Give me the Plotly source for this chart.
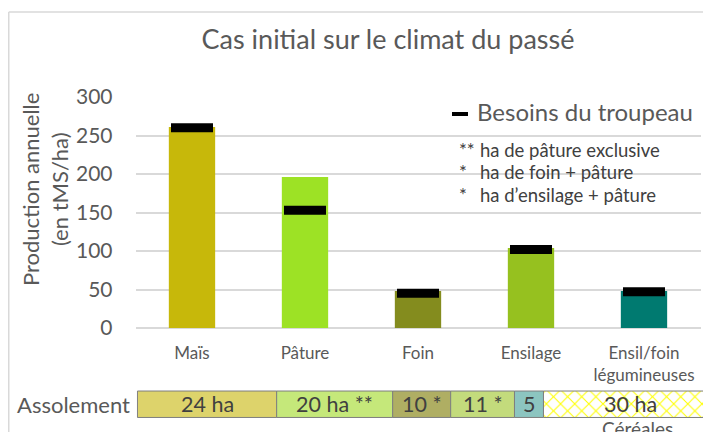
import plotly.graph_objects as go

# ---- data ----
categories = ["Maïs", "Pâture", "Foin", "Ensilage", "Ensil/foin<br>légumineuses"]
production = [261, 196, 48, 104, 48]
besoins = [260, 153, 45, 102, 47]
bar_colors = ["#C7B80A", "#9DE225", "#848C1E", "#96C11F", "#007A70"]

assol_labels = ["24 ha", "20 ha **", "10 *", "11 *", "5", "30 ha"]
assol_ha = [24, 20, 10, 11, 5, 30]
assol_colors = ["#DDD36B", "#C5E87A", "#AFAE63", "#C3DB7C", "#8CC5C0", "#FFFFFF"]

title_text = "Cas initial sur le climat du passé"
y_title = "Production annuelle<br>(en tMS/ha)"
legend_name = "Besoins du troupeau"
note_stars = ["**", "*", "*"]
note_texts = ["ha de pâture exclusive", "ha de foin + pâture", "ha d\u2019ensilage + pâture"]
row_label = "Assolement"
cereal_label = "Céréales"

W, H = 711, 432
OFF = 8  # page body margin
FONT = "Lato"
GREY = "#595959"

def px(x):
    return (x - OFF) / W

def py(y):
    return 1 - (y - OFF) / H

fig = go.Figure()

fig.add_trace(go.Bar(
    x=categories, y=production, marker=dict(color=bar_colors, line=dict(width=0)),
    width=0.41, showlegend=False, xaxis="x", yaxis="y"))

fig.add_trace(go.Scatter(
    x=categories, y=besoins, mode="markers", name=legend_name, showlegend=False,
    marker=dict(symbol="line-ew", size=30, color="black",
                line=dict(color="black", width=9)),
    xaxis="x", yaxis="y"))

# assolement row
cum = 0
for i, (lab, ha, col) in enumerate(zip(assol_labels, assol_ha, assol_colors)):
    last = i == len(assol_ha) - 1
    marker = dict(color=col, line=dict(color="#7F7F7F", width=1))
    if last:
        marker["pattern"] = dict(shape="x", fgcolor="#FFFF00", bgcolor="white",
                                 size=10, solidity=0.2, fillmode="replace")
    fig.add_trace(go.Bar(
        x=[ha], y=[0], base=[cum], orientation="h", width=1,
        marker=marker, showlegend=False, xaxis="x2", yaxis="y2"))
    fig.add_annotation(x=cum + ha / 2, y=0, xref="x2", yref="y2", text=lab,
                       showarrow=False, font=dict(family=FONT, size=21.5, color="#404040"))
    if last:
        fig.add_annotation(x=cum + ha / 2, y=py(415), xref="x2", yref="paper",
                           yanchor="top", xshift=7, text=cereal_label, showarrow=False,
                           font=dict(family=FONT, size=19, color=GREY))
    cum += ha

annotations_extra = [
    dict(x=px(132), y=py(404), xanchor="right", yanchor="middle", text=row_label,
         font=dict(family=FONT, size=22, color=GREY)),
    dict(x=px(45), y=py(190), xanchor="center", yanchor="middle", textangle=-90,
         text=y_title, font=dict(family=FONT, size=22, color=GREY)),
    dict(x=px(475), y=py(112), xanchor="left", yanchor="middle", text=legend_name,
         font=dict(family=FONT, size=24, color=GREY)),
]
for k, (s, t) in enumerate(zip(note_stars, note_texts)):
    yc = 150 + 22.5 * k
    annotations_extra.append(dict(x=px(457), y=py(yc), xanchor="left", yanchor="middle",
                                  text=s, font=dict(family=FONT, size=18.5, color="#404040")))
    annotations_extra.append(dict(x=px(478), y=py(yc), xanchor="left", yanchor="middle",
                                  text=t, font=dict(family=FONT, size=18.5, color="#404040")))
for a in annotations_extra:
    fig.add_annotation(xref="paper", yref="paper", showarrow=False, **a)

fig.update_layout(
    width=W, height=H, margin=dict(l=0, r=0, t=0, b=0, pad=0, autoexpand=False),
    paper_bgcolor="white", plot_bgcolor="white",
    font=dict(family=FONT, color=GREY),
    barmode="overlay",
    showlegend=False,
    title=dict(text=title_text, x=px(388), xanchor="center", y=py(40), yanchor="middle",
               font=dict(family=FONT, size=27, color=GREY), automargin=False),
    xaxis=dict(domain=[px(135.5), px(700.5)], showgrid=False, ticks="", showline=False,
               tickfont=dict(family=FONT, size=17, color=GREY), ticklabelstandoff=13,
               anchor="y", automargin=False),
    yaxis=dict(domain=[py(328), py(97)], range=[0, 300], dtick=50,
               gridcolor="#D9D9D9", gridwidth=1.5, zeroline=True,
               zerolinecolor="#D9D9D9", zerolinewidth=1.5, showline=False,
               tickfont=dict(family=FONT, size=21, color=GREY), ticklabelstandoff=22,
               anchor="x", automargin=False),
    xaxis2=dict(domain=[px(136.3), 1], range=[-0.2, (W + OFF - 137.5) / 5.8],
                visible=False, anchor="y2", automargin=False),
    yaxis2=dict(domain=[py(418.8), py(389.7)], range=[-0.55, 0.55], visible=False,
                anchor="x2", automargin=False),
    shapes=[
        dict(type="rect", xref="paper", yref="paper", x0=px(437), x1=px(697),
             y0=py(225), y1=py(88), fillcolor="white", line=dict(width=0), layer="between"),
        dict(type="line", xref="paper", yref="paper", x0=px(452), x1=px(468),
             y0=py(114), y1=py(114), line=dict(color="black", width=4)),
        dict(type="line", xref="paper", yref="paper", x0=px(8.75), x1=px(8.75),
             y0=0, y1=py(12), line=dict(color="#D9D9D9", width=1.5)),
        dict(type="line", xref="paper", yref="paper", x0=px(8.75), x1=1,
             y0=py(12), y1=py(12), line=dict(color="#D9D9D9", width=1.5)),
    ],
)

fig.write_html("out.html")
